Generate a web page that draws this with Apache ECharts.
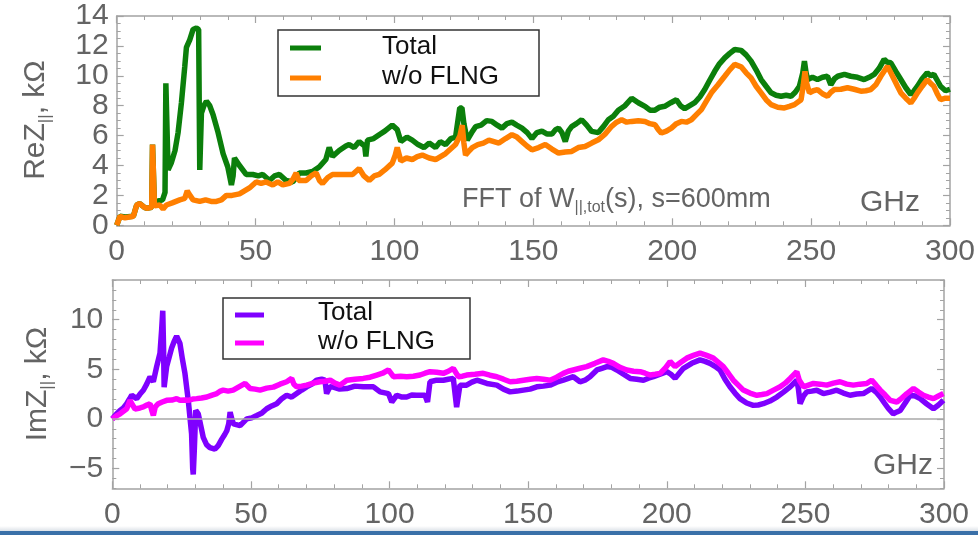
<!DOCTYPE html>
<html><head><meta charset="utf-8">
<script src="https://cdn.jsdelivr.net/npm/echarts@6/dist/echarts.min.js"></script>
<style>html,body{margin:0;padding:0;background:#fff}#c{width:978px;height:535px}</style>
</head><body><div id="c"></div>
<script>
// ---- Data ----
const reTotalX = [0,1.2,3,6,7.2,8.3,10,10.8,12.6,12.9,13.3,13.6,14.3,16.5,17.4,17.7,18.2,18.5,19.7,21,22.1,23.3,24.5,25.1,26.3,27.5,28.7,29.5,29.9,30.5,31.4,32.3,33.5,34.7,36.5,38.3,40,41.3,41.9,42.4,44.2,46.6,49,51,52.6,55,56.8,58.6,61,63.4,65.8,68.2,70.5,72.9,75.3,76.5,77.7,80.1,82.5,83.7,85.5,87.3,89.3,89.7,90.3,92.5,94.5,96.5,99.2,101,102.3,104.5,106.4,108.5,110.6,112.5,114.8,116.5,118.4,120.3,122,123.5,124.3,125,126.2,127.8,129.2,131.2,133.2,135.1,137,138.7,140.5,142.3,144,145.9,147.8,149.5,151.3,153.1,155,156.7,158,159.1,160.3,161.5,162.6,163.8,165.5,167.4,169.2,171,173.4,175.2,177,178.8,180.6,183,185.4,187.8,190.2,192,193.8,195.5,197.3,199.5,201.5,203,204.5,206.3,208.1,210,211.7,213.5,215.3,217,218.9,220.7,222.5,224.8,226.6,228.4,230.2,232,233.8,235.6,237.4,239.2,241,242.8,244.3,245.8,247,247.6,248.2,248.8,250.5,252.3,254.1,255.9,257.1,258.4,259.6,262,264.3,266.7,269.1,270.9,272.7,274.5,276.3,277.5,278.7,280.5,282.3,284.1,285.9,287.1,288.3,290,291.8,293,294.2,295.4,296.6,298.4,300];
const reTotalY = [0,0.6,0.55,0.6,1.36,1.45,1.2,1.14,1.2,5.4,5.4,1.3,1.6,1.7,2.2,9.5,9.5,3.7,4.2,5.0,6.2,8.2,10.6,11.9,12.4,13.1,13.2,13.1,3.7,7.5,8.0,8.3,8.0,7.4,6.2,4.8,3.9,2.7,3.3,4.5,4.0,3.4,3.4,3.3,3.4,3.0,3.3,3.4,3.0,2.9,3.5,3.5,3.6,3.9,4.4,5.2,4.6,5.0,5.3,5.4,5.2,5.6,5.3,4.6,5.7,5.8,6.06,6.3,6.7,6.4,5.6,5.9,5.7,5.4,5.2,5.5,5.2,5.6,5.4,5.8,5.9,7.85,7.85,6.8,5.7,6.2,6.6,6.7,7.0,6.95,6.7,6.5,6.8,6.9,6.7,6.5,6.2,5.8,6.2,6.3,6.1,6.1,6.4,6.5,6.2,5.6,6.3,6.6,6.8,7.06,6.7,6.28,6.2,6.6,7.06,7.3,7.7,8.0,8.5,8.2,7.96,7.7,7.7,7.9,7.96,8.2,8.4,8.0,7.8,8.0,8.2,8.6,9.08,9.7,10.3,10.8,11.2,11.5,11.76,11.7,11.4,10.98,10.4,9.75,9.3,8.86,8.7,8.63,8.7,8.63,8.9,9.3,10.2,10.98,10.2,9.75,9.9,9.75,9.9,9.97,9.4,9.8,9.97,10.1,9.97,9.9,9.75,9.9,10.09,10.5,11.1,10.9,10.87,10.3,9.75,9.2,8.75,9.0,9.3,9.8,10.2,10.0,10.1,9.7,9.3,9.0,9.1];

const reNoFlngX = [0,1.2,3,6,7.2,8.3,10,10.8,12.6,12.9,13.3,13.6,14.3,15.5,16.7,17.9,20,22.7,24.5,25.4,26,27.5,29.9,32,34,35.9,37.7,39.5,41.5,44.2,46,47.8,50.2,52,53.8,56.2,58,59.8,62.2,63.5,64.6,65.5,68.2,70,71.8,73,74.1,76,77.7,80.1,82.5,84.9,87.3,89,90.9,92.7,94.5,96.5,99.2,100.3,101,102.3,104.3,106.4,108.2,110,112.5,114.8,116.6,118.4,120.2,122,123.6,124.4,125,125.6,127,128,130,132,134,135.8,137.6,140,142.3,144.1,145.9,147.7,149.5,151.9,154.3,156.7,159.1,161.5,163.8,166.2,168.6,171,173.4,175.8,178.2,180,181.8,183.6,185.4,187.8,190.2,192,193.8,195,196.1,197.9,199.7,201.5,203.3,205.1,206.9,208.7,210.5,212.3,214.1,216.5,218.9,220.7,222.5,224.8,226.6,228.4,230.2,232,233.8,235.6,238,240.4,242.2,244,246.4,247.2,247.8,248.4,249.4,250.8,252.3,254.1,255.9,257.1,258.4,260.7,263.1,265.5,267.9,269.7,271.5,273.3,275.1,276.3,277.5,278.7,279.9,281.1,282.3,284.1,285.9,287.1,288.3,290,291.8,293,294.2,295.4,296.6,298.4,300];
const reNoFlngY = [0,0.6,0.5,0.6,1.36,1.45,1.2,1.14,1.2,5.4,5.4,1.3,1.2,1.36,1.1,1.36,1.5,1.7,1.8,2.3,2.1,1.7,1.6,1.7,1.6,1.6,1.7,2.0,2.0,2.1,2.3,2.5,2.9,2.8,2.9,2.7,2.9,2.7,2.8,3.1,3.5,3.0,3.0,3.3,3.5,3.0,2.8,3.2,3.4,3.4,3.4,3.4,3.8,3.3,3.0,3.3,3.4,3.7,4.16,4.7,5.2,4.3,4.5,4.4,4.6,4.7,4.5,4.4,4.6,4.8,5.1,5.4,6.0,6.7,5.5,4.7,5.0,5.2,5.4,5.5,5.7,5.6,5.5,5.8,6.06,5.9,5.6,5.3,5.05,5.2,5.4,5.1,4.83,4.9,4.94,5.2,5.27,5.5,5.72,6.1,6.62,6.9,7.06,6.9,6.95,7.0,6.95,6.8,6.73,6.4,6.17,6.3,6.5,6.8,6.95,6.9,7.06,7.4,7.74,8.3,8.86,9.4,9.97,10.4,10.76,10.6,10.2,9.86,9.3,8.86,8.4,8.07,7.9,7.85,7.95,8.07,8.4,9.4,10.3,9.5,8.86,9.0,9.08,8.8,8.63,8.9,9.08,9.1,9.2,9.1,8.97,9.0,9.08,9.4,9.97,10.3,10.64,10.2,9.75,9.3,8.86,8.5,8.18,8.5,8.86,9.3,9.75,9.5,9.3,8.8,8.4,8.5,8.5];

const imTotalX = [0,1.5,2.8,4,5.2,6.2,7,8.8,10,11.2,12.4,13.6,14.8,16,17.2,17.8,18.2,18.5,18.7,19.6,20.5,21.4,22.3,23.2,24.4,25.3,26.2,27.4,28.6,29,29.2,29.6,30.1,31,32,32.8,34,35.2,37,38.2,39.5,40.5,41.3,42,42.5,43.1,43.7,46.1,48.5,50.3,52.1,54,55.7,57.5,59.3,61,62.9,64.7,66.5,68.3,70.1,72,73.7,75.5,76.7,77.3,78.5,79.7,82,84.6,87.5,90.5,94.2,96.6,99.6,100.8,102.6,104.5,106.2,108,109.8,112.8,113.7,114.6,117,119.4,121.2,123,124.2,125.4,127.8,129.7,131.5,135.1,138.7,141.1,143.5,146,148.3,150.7,153.1,155.5,157.9,160.3,162.7,166.3,168.7,170.5,172.3,174.8,176.6,178.4,180.2,182,184.4,186.8,189.2,191.6,193.4,195.2,197.6,200,201.5,203,204.5,206,209,212,213.8,215.6,217.4,219.2,221,222.8,224.6,226.4,228.8,231.2,233,234.8,237.2,239.7,242.1,244.5,246.9,247.5,248.1,249.3,250.5,252.3,254.1,256.5,258.9,261.3,263.7,266.1,268.5,270.9,273.9,275.5,277,278.5,280,281.7,283,284.2,286,287.8,289.6,291.4,293.8,296.2,298,299.8];
const imTotalY = [0,0.5,0.85,1.1,1.53,2.0,2.38,2.04,2.5,2.89,3.5,4.24,3.74,5.27,6.63,9.0,10.9,7.0,3.2,5.27,6.2,7.14,7.8,8.33,7.6,6.0,4.59,1.87,-1.53,-5.0,-5.6,-3.0,0.85,0.5,-0.8,-1.87,-2.6,-2.9,-3.06,-2.7,-2.04,-1.6,-1.2,-0.5,0.68,0.0,-0.51,-0.68,0,0.1,0.34,0.6,1.02,1.3,1.53,2.0,2.38,2.2,2.55,2.9,3.23,3.5,3.9,4.0,3.9,2.55,3.23,3.2,3.0,3.06,3.3,3.23,3.23,2.72,2.55,1.7,2.38,2.2,2.2,2.4,2.38,2.38,1.7,3.74,3.9,3.9,4.0,4.08,1.19,3.4,3.4,3.7,3.9,3.57,3.4,3.0,2.72,2.8,2.9,3.0,3.23,3.3,3.4,3.7,3.9,4.25,3.74,3.9,4.25,4.93,5.1,5.27,5.2,4.93,4.5,4.08,4.0,3.9,4.1,4.25,4.5,4.76,4.5,4.08,4.6,5.1,5.6,5.95,5.8,5.6,5.3,4.93,4.0,3.23,2.6,2.04,1.6,1.36,1.4,1.53,1.8,2.2,2.7,3.23,3.9,3.0,1.53,2.3,2.72,2.8,2.89,2.55,2.7,2.89,2.6,2.38,2.5,2.55,3.06,2.7,2.2,1.6,1.02,0.51,0.7,0.85,1.6,2.38,2.3,2.04,1.5,1.02,1.4,1.87];

const imNoFlngX = [0,1.5,2.8,5.2,6.4,7.3,8.2,10,11.2,12.5,13.6,14.3,14.8,15.5,16.6,18,19.6,21.5,23.2,24.4,26,27.4,29,30.4,32.2,34.1,36,37.7,39,40,41.8,43.6,45.5,47.9,49.7,51.5,53.3,55.7,58.1,60.5,62.9,64.7,65.5,66.5,68.3,70.1,72.5,74.9,76.7,78.6,80.3,82.1,84.6,87.5,90.5,93,95.4,97.5,99.6,101.4,104,106.2,108.6,111,112.8,114.6,117,119.4,121.2,123,124.8,126.3,127.8,130.8,133.8,136.2,138.7,141.1,143.5,145.9,148.3,150.7,153.1,155.5,157.9,160.3,162.7,164.5,166.3,168.7,171.1,174.1,177.1,178.9,180.7,183.1,185.6,188,190.4,192.2,194,195.8,197.6,199.4,201.2,203,205.1,207.2,209.6,212,214.4,216.8,218.6,220.4,222.2,224,225.8,227.6,230,232.5,234.3,236.1,238.5,240.9,242.7,244.5,246.9,247.8,249.3,251.1,252.9,255.3,257.7,260.1,262.5,264.9,267.3,269.7,272.1,273.9,275.5,277,278.8,280.6,283,284.8,286.6,289,290.8,292.6,294.4,296.2,298,299.8];
const imNoFlngY = [0,0.3,0.51,1.02,1.87,1.4,1.0,1.1,1.2,1.4,1.53,0.8,0.34,1.2,1.53,1.7,1.87,1.9,2.04,1.87,1.9,1.87,2.0,2.04,2.1,2.2,2.4,2.55,2.8,2.9,2.8,2.9,3.2,3.57,3.06,3.0,2.9,3.1,3.2,3.5,3.74,4.08,3.5,3.23,3.3,3.4,3.6,3.74,3.8,3.9,3.6,3.4,3.9,4.0,4.08,4.2,4.42,4.6,4.93,4.25,4.3,4.25,4.3,4.42,4.6,4.76,4.7,4.59,4.8,5.1,4.25,4.3,4.42,4.5,4.59,4.4,4.25,4.0,3.74,3.8,3.9,4.0,4.08,4.0,3.9,4.2,4.59,4.8,4.93,5.1,5.27,5.6,5.95,5.8,5.6,5.2,4.93,4.8,4.76,4.6,4.42,4.5,4.59,5.1,5.78,5.27,5.7,6.12,6.4,6.63,6.4,6.12,5.7,5.27,4.6,3.9,3.4,2.9,2.6,2.38,2.45,2.55,2.9,3.23,3.6,4.08,4.76,3.9,3.23,3.4,3.57,3.5,3.4,3.6,3.74,3.5,3.4,3.5,3.57,3.9,3.4,2.9,2.4,1.87,1.7,2.1,2.55,3.06,2.7,2.38,2.2,2.04,2.3,2.55];

const xTicks = [0,50,100,150,200,250,300];
const reTicks = [0,2,4,6,8,10,12,14];
const imTicks = [-5,0,5,10];
const imMinor = [-7,-6,-5,-4,-3,-2,-1,0,1,2,3,4,5,6,7,8,9,10,11,12,13,14];
const seriesNames = ['Total','w/o FLNG'];

// ---- Styling ----
const FONT = "'Liberation Sans', Arial, sans-serif";
const FRAME = '#a3a3a3';
const TXT = '#646464';
const C_GREEN = '#0b7f0b', C_ORANGE = '#ff7f00', C_PURPLE = '#7f00ff', C_MAGENTA = '#ff00ff';
const LW = 5.5;

function pairs(xs, ys){ return xs.map((x,i)=>[x, ys[i]]); }

function mkX(grid, labels, pos){
  return {type:'value', gridIndex:grid, position:pos, min:xTicks[0], max:xTicks[xTicks.length-1], interval:50,
    axisLine:{show:true, onZero:false, lineStyle:{color:FRAME, width:1.5}},
    axisTick:{show:true, inside:true, length:7, lineStyle:{color:FRAME, width:1.2}},
    minorTick:{show:true, splitNumber:5, length:4, lineStyle:{color:FRAME, width:1}},
    axisLabel:{show:labels, color:TXT, fontFamily:FONT, fontSize:30, margin:11},
    splitLine:{show:false}};
}
function mkReY(labels, pos){
  return {type:'value', gridIndex:0, position:pos, min:reTicks[0], max:reTicks[reTicks.length-1], interval:2,
    axisLine:{show:true, onZero:false, lineStyle:{color:FRAME, width:1.5}},
    axisTick:{show:true, inside:true, length:7, lineStyle:{color:FRAME, width:1.2}},
    minorTick:{show:true, splitNumber:4, length:4, lineStyle:{color:FRAME, width:1}},
    axisLabel:{show:labels, color:TXT, fontFamily:FONT, fontSize:30, margin:8},
    splitLine:{show:false}};
}
function mkImY(labels, pos, minor){
  return {type:'value', gridIndex:1, position:pos, min:-7, max:14,
    axisLine:{show:!minor, onZero:false, lineStyle:{color:FRAME, width:1.5}},
    axisTick:{show:true, inside:true, length:minor?4:7, customValues: minor?imMinor:imTicks, lineStyle:{color:FRAME, width:minor?1:1.2}},
    axisLabel:{show:labels, customValues: imTicks, color:TXT, fontFamily:FONT, fontSize:30, margin:9,
      formatter:v=>String(v).replace('-','\u2212')},
    splitLine:{show:false}};
}

const chart = echarts.init(document.getElementById('c'), null, {renderer:'canvas'});
const option = {
  animation:false,
  backgroundColor:'#fff',
  grid:[{left:116.7, right:25.3, top:16, height:209.3},{left:112.3, right:34, top:280, height:208.3}],
  xAxis:[mkX(0,true,'bottom'), mkX(0,false,'top'), mkX(1,true,'bottom'), mkX(1,false,'top')],
  yAxis:[mkReY(true,'left'), mkReY(false,'right'), mkImY(true,'left',false), mkImY(false,'left',true), mkImY(false,'right',false), mkImY(false,'right',true)],
  series:[
    {name:seriesNames[0], type:'line', xAxisIndex:0, yAxisIndex:0, data:pairs(reTotalX, reTotalY), showSymbol:false, lineStyle:{color:C_GREEN, width:LW}, itemStyle:{color:C_GREEN}},
    {name:seriesNames[1], type:'line', xAxisIndex:0, yAxisIndex:0, data:pairs(reNoFlngX, reNoFlngY), showSymbol:false, lineStyle:{color:C_ORANGE, width:LW}, itemStyle:{color:C_ORANGE}},
    {name:seriesNames[0], type:'line', xAxisIndex:2, yAxisIndex:2, data:pairs(imTotalX, imTotalY), showSymbol:false, lineStyle:{color:C_PURPLE, width:LW}, itemStyle:{color:C_PURPLE},
      markLine:{silent:true, symbol:['none','none'], label:{show:false}, lineStyle:{color:'#a8a8a8', width:1.5, type:'solid'}, data:[{yAxis:0}]}},
    {name:seriesNames[1], type:'line', xAxisIndex:2, yAxisIndex:2, data:pairs(imNoFlngX, imNoFlngY), showSymbol:false, lineStyle:{color:C_MAGENTA, width:LW}, itemStyle:{color:C_MAGENTA}}
  ],
  graphic:[
    // top legend
    {type:'rect', shape:{x:278, y:30, width:261, height:66}, style:{fill:'#fff', stroke:'#333', lineWidth:1.5}, z:10},
    {type:'line', shape:{x1:290, y1:48, x2:321, y2:48}, style:{stroke:C_GREEN, lineWidth:5}, z:11},
    {type:'line', shape:{x1:290, y1:78, x2:321, y2:78}, style:{stroke:C_ORANGE, lineWidth:5}, z:11},
    {type:'text', x:382, y:47, style:{text:seriesNames[0], fill:'#111', font:'26px '+FONT, verticalAlign:'middle'}, z:11},
    {type:'text', x:382, y:77, style:{text:seriesNames[1], fill:'#111', font:'26px '+FONT, verticalAlign:'middle'}, z:11},
    // bottom legend
    {type:'rect', shape:{x:223, y:298, width:247, height:61}, style:{fill:'#fff', stroke:'#333', lineWidth:1.5}, z:10},
    {type:'line', shape:{x1:235, y1:315, x2:264, y2:315}, style:{stroke:C_PURPLE, lineWidth:5}, z:11},
    {type:'line', shape:{x1:235, y1:343, x2:264, y2:343}, style:{stroke:C_MAGENTA, lineWidth:5}, z:11},
    {type:'text', x:318, y:313, style:{text:seriesNames[0], fill:'#111', font:'26px '+FONT, verticalAlign:'middle'}, z:11},
    {type:'text', x:318, y:342, style:{text:seriesNames[1], fill:'#111', font:'26px '+FONT, verticalAlign:'middle'}, z:11},
    // axis titles
    {type:'text', x:36, y:120, rotation:Math.PI/2, style:{text:'{a|ReZ}{s|||}{a|, kΩ}', align:'center', verticalAlign:'middle',
      rich:{a:{fontSize:30, fontFamily:FONT, fill:TXT, color:TXT, lineHeight:36}, s:{fontSize:17, fontFamily:FONT, fill:TXT, color:TXT, lineHeight:17, verticalAlign:'bottom'}}}},
    {type:'text', x:38, y:384, rotation:Math.PI/2, style:{text:'{a|ImZ}{s|||}{a|, kΩ}', align:'center', verticalAlign:'middle',
      rich:{a:{fontSize:30, fontFamily:FONT, fill:TXT, color:TXT, lineHeight:36}, s:{fontSize:17, fontFamily:FONT, fill:TXT, color:TXT, lineHeight:17, verticalAlign:'bottom'}}}},
    // annotations
    {type:'text', x:462, y:200, style:{text:'{a|FFT of W}{s|||,tot}{a|(s), s=600mm}', align:'left', verticalAlign:'middle',
      rich:{a:{fontSize:27, fontFamily:FONT, fill:TXT, color:TXT, lineHeight:32}, s:{fontSize:16, fontFamily:FONT, fill:TXT, color:TXT, lineHeight:16, verticalAlign:'bottom'}}}},
    {type:'text', x:860, y:203, style:{text:'GHz', fill:TXT, font:'30px '+FONT, verticalAlign:'middle'}},
    {type:'text', x:873, y:466, style:{text:'GHz', fill:TXT, font:'30px '+FONT, verticalAlign:'middle'}},
    // window strip at bottom
    {type:'rect', shape:{x:0, y:526, width:978, height:5}, style:{fill:new echarts.graphic.LinearGradient(0,0,0,1,[{offset:0,color:'#ffffff'},{offset:1,color:'#dde2e8'}])}},
    {type:'rect', shape:{x:0, y:531, width:978, height:4}, style:{fill:'#3a70a8'}}
  ]
};
chart.setOption(option);
</script>
</body></html>
